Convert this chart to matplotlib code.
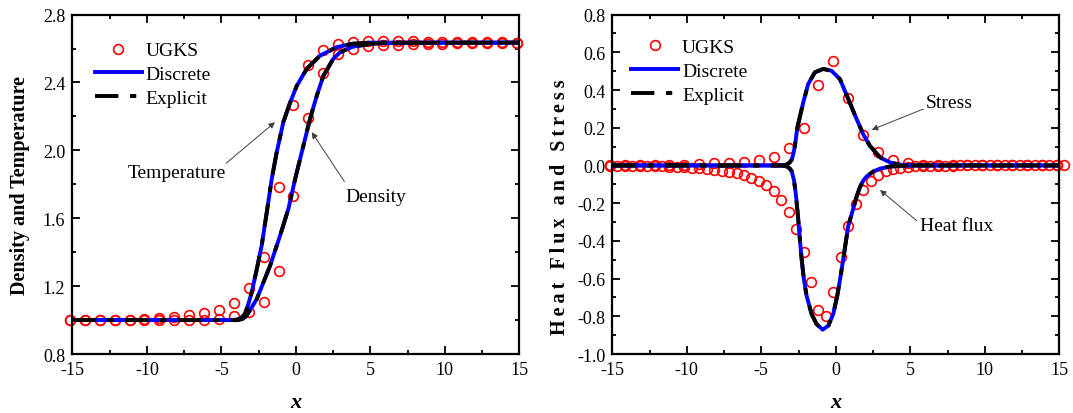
import matplotlib
matplotlib.use("Agg")
import matplotlib.pyplot as plt
from matplotlib.ticker import MultipleLocator, FormatStrFormatter

plt.rcParams["font.family"] = ["Liberation Serif", "DejaVu Serif"]
plt.rcParams["axes.unicode_minus"] = False

# ---------------- UGKS samples (left panel) ----------------
x_ugks = [-15.16, -14.16, -13.16, -12.16, -11.16, -10.16, -9.16, -8.16, -7.16, -6.16,
          -5.16, -4.16, -3.16, -2.16, -1.16, -0.16, 0.84, 1.84, 2.84, 3.84,
          4.84, 5.84, 6.84, 7.84, 8.84, 9.84, 10.84, 11.84, 12.84, 13.84, 14.84]
rho_ugks = [1.000, 1.000, 1.000, 1.000, 1.000, 1.000, 1.000, 1.000, 1.000, 1.001,
            1.005, 1.026, 1.046, 1.105, 1.290, 1.733, 2.190, 2.454, 2.565, 2.600,
            2.615, 2.621, 2.623, 2.625, 2.627, 2.628, 2.630, 2.631, 2.632, 2.633, 2.634]
temp_ugks = [1.000, 1.000, 1.000, 1.001, 1.003, 1.008, 1.015, 1.020, 1.027, 1.040,
             1.061, 1.100, 1.187, 1.370, 1.785, 2.265, 2.505, 2.594, 2.625, 2.637,
             2.642, 2.643, 2.643, 2.642, 2.641, 2.640, 2.639, 2.638, 2.637, 2.636, 2.635]

# ---------------- model profiles (left panel) ----------------
x_temp = [-15.0, -4.2, -3.75, -3.41, -3.2, -2.96, -2.62, -2.29, -1.95, -1.62,
          -1.28, -0.84, -0.39, 0.06, 0.73, 1.62, 2.74, 3.8, 5.0, 15.0]
temp_line = [1.0, 1.0, 1.005, 1.036, 1.09, 1.164, 1.30, 1.44, 1.635, 1.83,
             1.99, 2.166, 2.28, 2.38, 2.48, 2.558, 2.608, 2.628, 2.635, 2.635]
x_rho = [-15.0, -4.0, -3.6, -3.3, -2.62, -1.73, -1.06, -0.5, -0.05, 0.4,
         0.95, 1.4, 1.85, 2.52, 2.97, 3.8, 5.0, 6.0, 15.0]
rho_line = [1.0, 1.0, 1.006, 1.026, 1.124, 1.32, 1.497, 1.655, 1.83, 1.99,
            2.185, 2.32, 2.44, 2.54, 2.578, 2.61, 2.628, 2.633, 2.635]

# ---------------- UGKS samples (right panel) ----------------
stress_ugks = [0.000, 0.001, 0.001, 0.002, 0.003, 0.004, 0.007, 0.011, 0.014, 0.018,
               0.029, 0.046, 0.094, 0.198, 0.426, 0.555, 0.357, 0.161, 0.069, 0.030,
               0.012, 0.005, 0.002, 0.001, 0.000, 0.000, 0.000, 0.000, 0.000, 0.000, 0.000]
x_q_ugks = [-15.16, -14.66, -14.16, -13.66, -13.16, -12.66, -12.16, -11.66, -11.16, -10.66,
            -10.16, -9.66, -9.16, -8.66, -8.16, -7.66, -7.16, -6.66, -6.16, -5.66,
            -5.16, -4.66, -4.16, -3.66, -3.16, -2.66, -2.16, -1.66, -1.16, -0.66,
            -0.16, 0.34, 0.84, 1.34, 1.84, 2.34, 2.84, 3.34, 3.84, 4.34,
            4.84, 5.34, 5.84, 6.34, 6.84, 7.34, 7.84, 8.34, 8.84, 9.34,
            9.84, 10.34, 10.84, 11.34, 11.84, 12.34, 12.84, 13.34, 13.84, 14.34,
            14.84, 15.34]
q_ugks = [-0.002, -0.002, -0.003, -0.003, -0.004, -0.005, -0.005, -0.005, -0.006, -0.007,
          -0.008, -0.011, -0.014, -0.019, -0.023, -0.028, -0.035, -0.040, -0.049, -0.065,
          -0.081, -0.102, -0.134, -0.185, -0.247, -0.337, -0.461, -0.620, -0.767, -0.797,
          -0.673, -0.487, -0.320, -0.204, -0.129, -0.081, -0.051, -0.030, -0.020, -0.013,
          -0.008, -0.005, -0.003, -0.002, -0.001, -0.001, -0.001, 0.000, 0.000, 0.000,
          0.000, 0.000, 0.000, 0.000, 0.000, 0.000, 0.000, 0.000, 0.000, 0.000,
          0.000, 0.000]

# ---------------- model profiles (right panel) ----------------
x_stress = [-15.0, -3.6, -3.3, -3.1, -2.96, -2.85, -2.74, -2.58, -2.18, -1.85,
            -1.4, -0.84, -0.28, 0.28, 0.84, 1.4, 1.84, 2.29, 2.97, 3.64,
            4.31, 5.0, 15.0]
stress_line = [0.0, 0.0, 0.005, 0.015, 0.03, 0.06, 0.104, 0.20, 0.335, 0.432,
               0.494, 0.512, 0.502, 0.458, 0.352, 0.246, 0.166, 0.104, 0.043, 0.016,
               0.004, 0.0, 0.0]
x_q = [-15.0, -3.6, -3.3, -3.1, -2.96, -2.8, -2.67, -2.52, -2.41, -2.29,
       -2.14, -1.96, -1.62, -1.29, -0.88, -0.5, -0.17, 0.10, 0.33, 0.57,
       0.84, 1.17, 1.4, 1.62, 1.85, 2.07, 2.5, 2.97, 3.64, 4.31,
       5.0, 15.0]
q_line = [0.0, 0.0, -0.005, -0.015, -0.03, -0.08, -0.16, -0.284, -0.39, -0.496,
          -0.603, -0.691, -0.788, -0.841, -0.871, -0.85, -0.788, -0.691, -0.585, -0.461,
          -0.32, -0.23, -0.165, -0.115, -0.08, -0.058, -0.033, -0.017, -0.006, -0.002,
          0.0, 0.0]

RED = "#ff0000"
BLUE = "#0000ff"
DASH = (0, (6, 3, 1.6, 3))
LW = 2.8
THIN = "\u2009"


def style_axes(ax, ylim, ymajor, yminor, ylabel, labelpad):
    ax.set_xlim(-15, 15)
    ax.set_ylim(*ylim)
    ax.xaxis.set_major_locator(MultipleLocator(5))
    ax.xaxis.set_minor_locator(MultipleLocator(2.5))
    ax.yaxis.set_major_locator(MultipleLocator(ymajor))
    ax.yaxis.set_minor_locator(MultipleLocator(yminor))
    ax.yaxis.set_major_formatter(FormatStrFormatter("%.1f"))
    ax.tick_params(which="both", direction="in", top=True, right=True, width=1.3,
                   labelsize=13)
    ax.tick_params(which="major", length=5.5, pad=5)
    ax.tick_params(which="minor", length=3)
    for sp in ax.spines.values():
        sp.set_linewidth(1.6)
    ax.set_xlabel("x", fontsize=16, fontweight="bold", fontstyle="italic", labelpad=10)
    ax.set_ylabel(ylabel, fontsize=14.5, fontweight="bold", labelpad=labelpad)


def draw_series(ax, xs, ys, xl, yl):
    ax.plot(xs, ys, "o", ms=7, mfc="none", mec=RED, mew=1.2, clip_on=False,
            zorder=2, label="UGKS")
    ax.plot(xl, yl, color=BLUE, lw=LW, zorder=3, label="Discrete")
    ax.plot(xl, yl, color="black", lw=LW, ls=DASH, zorder=4, label="Explicit")


def add_legend(ax, x0, y0):
    h, l = ax.get_legend_handles_labels()
    ax.legend(h[:3], l[:3], loc="upper left", bbox_to_anchor=(x0, y0),
              frameon=False, fontsize=14, handlelength=2.4, handletextpad=0.2,
              labelspacing=0.32, borderpad=0, borderaxespad=0)


def arrow(ax, head, tail):
    ax.annotate("", xy=head, xytext=tail,
                arrowprops=dict(arrowstyle="-|>", color="0.25", lw=0.7,
                                mutation_scale=9, shrinkA=0, shrinkB=0))


fig = plt.figure(figsize=(10.73, 4.14), dpi=100)
ax1 = fig.add_axes([0.0674, 0.1425, 0.4166, 0.8198])
ax2 = fig.add_axes([0.5706, 0.1425, 0.4166, 0.8198])

# left: density and temperature
draw_series(ax1, x_ugks, rho_ugks, x_rho, rho_line)
ax1.plot(x_ugks, temp_ugks, "o", ms=7, mfc="none", mec=RED, mew=1.2,
         clip_on=False, zorder=2)
ax1.plot(x_temp, temp_line, color=BLUE, lw=LW, zorder=3)
ax1.plot(x_temp, temp_line, color="black", lw=LW, ls=DASH, zorder=4)
style_axes(ax1, (0.8, 2.8), 0.4, 0.2, "Density and Temperature", 9)
add_legend(ax1, 0.051, 0.92)
ax1.text(-8.0, 1.87, "Temperature", fontsize=14, ha="center", va="center")
arrow(ax1, (-1.40, 2.166), (-4.68, 1.924))
ax1.text(5.4, 1.73, "Density", fontsize=14, ha="center", va="center")
arrow(ax1, (1.07, 2.107), (3.26, 1.816))

# right: heat flux and stress (letter-spaced label, sits a little low)
draw_series(ax2, x_ugks, stress_ugks, x_stress, stress_line)
ax2.plot(x_q_ugks, q_ugks, "o", ms=7, mfc="none", mec=RED, mew=1.2,
         clip_on=False, zorder=2)
ax2.plot(x_q, q_line, color=BLUE, lw=LW, zorder=3)
ax2.plot(x_q, q_line, color="black", lw=LW, ls=DASH, zorder=4)
style_axes(ax2, (-1.0, 0.8), 0.2, 0.1, THIN.join("Heat Flux and Stress"), 7)
ax2.yaxis.set_label_coords(-0.094, 0.436)
add_legend(ax2, 0.043, 0.93)
ax2.text(7.6, 0.336, "Stress", fontsize=14, ha="center", va="center")
arrow(ax2, (2.41, 0.189), (5.87, 0.299))
ax2.text(8.1, -0.32, "Heat flux", fontsize=14, ha="center", va="center")
arrow(ax2, (2.97, -0.130), (5.43, -0.293))

fig.savefig("out.png", dpi=100)
